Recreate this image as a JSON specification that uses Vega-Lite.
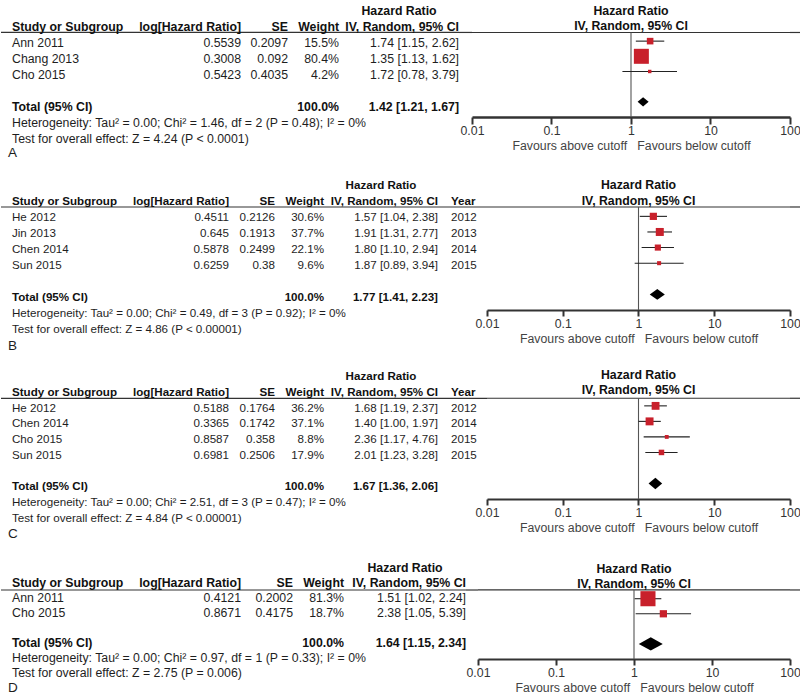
{
  "$schema": "https://vega.github.io/schema/vega-lite/v6.json",
  "padding": 0,
  "background": "white",
  "config": {
    "view": {"stroke": null},
    "font": "Liberation Sans",
    "text": {"fontSize": 12.3, "color": "#1e1e1e", "baseline": "middle"}
  },
  "datasets": {
    "studies": [
      {"panel": "A", "row": 1, "study": "Ann 2011", "loghr": 0.5539, "se": 0.2097, "weight": 0.155, "ci": "1.74 [1.15, 2.62]", "hr": 1.74, "lo": 1.15, "hi": 2.62},
      {"panel": "A", "row": 2, "study": "Chang 2013", "loghr": 0.3008, "se": 0.092, "weight": 0.804, "ci": "1.35 [1.13, 1.62]", "hr": 1.35, "lo": 1.13, "hi": 1.62},
      {"panel": "A", "row": 3, "study": "Cho 2015", "loghr": 0.5423, "se": 0.4035, "weight": 0.042, "ci": "1.72 [0.78, 3.79]", "hr": 1.72, "lo": 0.78, "hi": 3.79},
      {"panel": "B", "row": 1, "study": "He 2012", "loghr": 0.4511, "se": 0.2126, "weight": 0.306, "ci": "1.57 [1.04, 2.38]", "hr": 1.57, "lo": 1.04, "hi": 2.38, "year": 2012},
      {"panel": "B", "row": 2, "study": "Jin 2013", "loghr": 0.645, "se": 0.1913, "weight": 0.377, "ci": "1.91 [1.31, 2.77]", "hr": 1.91, "lo": 1.31, "hi": 2.77, "year": 2013},
      {"panel": "B", "row": 3, "study": "Chen 2014", "loghr": 0.5878, "se": 0.2499, "weight": 0.221, "ci": "1.80 [1.10, 2.94]", "hr": 1.8, "lo": 1.1, "hi": 2.94, "year": 2014},
      {"panel": "B", "row": 4, "study": "Sun 2015", "loghr": 0.6259, "se": 0.38, "weight": 0.096, "ci": "1.87 [0.89, 3.94]", "hr": 1.87, "lo": 0.89, "hi": 3.94, "year": 2015},
      {"panel": "C", "row": 1, "study": "He 2012", "loghr": 0.5188, "se": 0.1764, "weight": 0.362, "ci": "1.68 [1.19, 2.37]", "hr": 1.68, "lo": 1.19, "hi": 2.37, "year": 2012},
      {"panel": "C", "row": 2, "study": "Chen 2014", "loghr": 0.3365, "se": 0.1742, "weight": 0.371, "ci": "1.40 [1.00, 1.97]", "hr": 1.4, "lo": 1.0, "hi": 1.97, "year": 2014},
      {"panel": "C", "row": 3, "study": "Cho 2015", "loghr": 0.8587, "se": 0.358, "weight": 0.088, "ci": "2.36 [1.17, 4.76]", "hr": 2.36, "lo": 1.17, "hi": 4.76, "year": 2015},
      {"panel": "C", "row": 4, "study": "Sun 2015", "loghr": 0.6981, "se": 0.2506, "weight": 0.179, "ci": "2.01 [1.23, 3.28]", "hr": 2.01, "lo": 1.23, "hi": 3.28, "year": 2015},
      {"panel": "D", "row": 1, "study": "Ann 2011", "loghr": 0.4121, "se": 0.2002, "weight": 0.813, "ci": "1.51 [1.02, 2.24]", "hr": 1.51, "lo": 1.02, "hi": 2.24},
      {"panel": "D", "row": 2, "study": "Cho 2015", "loghr": 0.8671, "se": 0.4175, "weight": 0.187, "ci": "2.38 [1.05, 5.39]", "hr": 2.38, "lo": 1.05, "hi": 5.39}
    ],
    "totals": [
      {"panel": "A", "row": 5, "label": "Total (95% CI)", "weight": 1, "ci": "1.42 [1.21, 1.67]", "hr": 1.42, "lo": 1.21, "hi": 1.67},
      {"panel": "B", "row": 6, "label": "Total (95% CI)", "weight": 1, "ci": "1.77 [1.41, 2.23]", "hr": 1.77, "lo": 1.41, "hi": 2.23},
      {"panel": "C", "row": 6, "label": "Total (95% CI)", "weight": 1, "ci": "1.67 [1.36, 2.06]", "hr": 1.67, "lo": 1.36, "hi": 2.06},
      {"panel": "D", "row": 4, "label": "Total (95% CI)", "weight": 1, "ci": "1.64 [1.15, 2.34]", "hr": 1.64, "lo": 1.15, "hi": 2.34}
    ],
    "notes": [
      {"panel": "A", "row": 6, "text": "Heterogeneity: Tau² = 0.00; Chi² = 1.46, df = 2 (P = 0.48); I² = 0%"},
      {"panel": "A", "row": 7, "text": "Test for overall effect: Z = 4.24 (P < 0.0001)"},
      {"panel": "B", "row": 7, "text": "Heterogeneity: Tau² = 0.00; Chi² = 0.49, df = 3 (P = 0.92); I² = 0%"},
      {"panel": "B", "row": 8, "text": "Test for overall effect: Z = 4.86 (P < 0.00001)"},
      {"panel": "C", "row": 7, "text": "Heterogeneity: Tau² = 0.00; Chi² = 2.51, df = 3 (P = 0.47); I² = 0%"},
      {"panel": "C", "row": 8, "text": "Test for overall effect: Z = 4.84 (P < 0.00001)"},
      {"panel": "D", "row": 5, "text": "Heterogeneity: Tau² = 0.00; Chi² = 0.97, df = 1 (P = 0.33); I² = 0%"},
      {"panel": "D", "row": 6, "text": "Test for overall effect: Z = 2.75 (P = 0.006)"}
    ],
    "letters": [
      {"panel": "A", "row": 7, "letter": "A"},
      {"panel": "B", "row": 8, "letter": "B"},
      {"panel": "C", "row": 8, "letter": "C"},
      {"panel": "D", "row": 6, "letter": "D"}
    ],
    "headers": [
      {"panel": "A", "col": "study", "row": 0, "text": "Study or Subgroup"},
      {"panel": "A", "col": "loghr", "row": 0, "text": "log[Hazard Ratio]"},
      {"panel": "A", "col": "se", "row": 0, "text": "SE"},
      {"panel": "A", "col": "weight", "row": 0, "text": "Weight"},
      {"panel": "A", "col": "ci", "row": -1, "text": "Hazard Ratio"},
      {"panel": "A", "col": "ci", "row": 0, "text": "IV, Random, 95% CI"},
      {"panel": "A", "col": "forest", "row": -1, "text": "Hazard Ratio"},
      {"panel": "A", "col": "forest", "row": 0, "text": "IV, Random, 95% CI"},
      {"panel": "B", "col": "study", "row": 0, "text": "Study or Subgroup"},
      {"panel": "B", "col": "loghr", "row": 0, "text": "log[Hazard Ratio]"},
      {"panel": "B", "col": "se", "row": 0, "text": "SE"},
      {"panel": "B", "col": "weight", "row": 0, "text": "Weight"},
      {"panel": "B", "col": "ci", "row": -1, "text": "Hazard Ratio"},
      {"panel": "B", "col": "ci", "row": 0, "text": "IV, Random, 95% CI"},
      {"panel": "B", "col": "year", "row": 0, "text": "Year"},
      {"panel": "B", "col": "forest", "row": -1, "text": "Hazard Ratio"},
      {"panel": "B", "col": "forest", "row": 0, "text": "IV, Random, 95% CI"},
      {"panel": "C", "col": "study", "row": 0, "text": "Study or Subgroup"},
      {"panel": "C", "col": "loghr", "row": 0, "text": "log[Hazard Ratio]"},
      {"panel": "C", "col": "se", "row": 0, "text": "SE"},
      {"panel": "C", "col": "weight", "row": 0, "text": "Weight"},
      {"panel": "C", "col": "ci", "row": -1, "text": "Hazard Ratio"},
      {"panel": "C", "col": "ci", "row": 0, "text": "IV, Random, 95% CI"},
      {"panel": "C", "col": "year", "row": 0, "text": "Year"},
      {"panel": "C", "col": "forest", "row": -1, "text": "Hazard Ratio"},
      {"panel": "C", "col": "forest", "row": 0, "text": "IV, Random, 95% CI"},
      {"panel": "D", "col": "study", "row": 0, "text": "Study or Subgroup"},
      {"panel": "D", "col": "loghr", "row": 0, "text": "log[Hazard Ratio]"},
      {"panel": "D", "col": "se", "row": 0, "text": "SE"},
      {"panel": "D", "col": "weight", "row": 0, "text": "Weight"},
      {"panel": "D", "col": "ci", "row": -1, "text": "Hazard Ratio"},
      {"panel": "D", "col": "ci", "row": 0, "text": "IV, Random, 95% CI"},
      {"panel": "D", "col": "forest", "row": -1, "text": "Hazard Ratio"},
      {"panel": "D", "col": "forest", "row": 0, "text": "IV, Random, 95% CI"}
    ]
  },
  "spacing": 0,
  "resolve": {"scale": {"size": "independent"}},
  "vconcat": [
    {
      "spacing": 0, "bounds": "flush",
      "hconcat": [
        {
          "width": 140, "height": 175,
          "encoding": {"y": {"field": "row", "type": "quantitative", "scale": {"domain": [-1.6875, 9.25], "reverse": true, "nice": false, "zero": false}, "axis": null}},
          "layer": [
            {"data": {"name": "headers"}, "transform": [{"filter": "datum.panel == 'A' && datum.col == 'study'"}], "mark": {"type": "rule", "color": "#333", "strokeWidth": 1.2}, "encoding": {"y": {"datum": 0.34, "type": "quantitative", "axis": null}}},
            {"data": {"name": "headers"}, "transform": [{"filter": "datum.panel == 'A' && datum.col == 'study'"}], "mark": {"type": "text", "align": "left", "dx": 11, "fontWeight": "bold", "color": "#111"}, "encoding": {"x": {"value": 0}, "text": {"field": "text", "type": "nominal"}}},
            {"data": {"name": "studies"}, "transform": [{"filter": "datum.panel == 'A'"}], "mark": {"type": "text", "align": "left", "dx": 11}, "encoding": {"x": {"value": 0}, "text": {"field": "study", "type": "nominal"}}},
            {"data": {"name": "totals"}, "transform": [{"filter": "datum.panel == 'A'"}], "mark": {"type": "text", "align": "left", "dx": 11, "fontWeight": "bold", "color": "#111"}, "encoding": {"x": {"value": 0}, "text": {"field": "label", "type": "nominal"}}},
            {"data": {"name": "notes"}, "transform": [{"filter": "datum.panel == 'A'"}], "mark": {"type": "text", "align": "left", "dx": 11}, "encoding": {"x": {"value": 0}, "text": {"field": "text", "type": "nominal"}}},
            {"data": {"name": "letters"}, "transform": [{"filter": "datum.panel == 'A'"}], "mark": {"type": "text", "align": "left", "dx": 7, "dy": 14, "fontSize": 13.5}, "encoding": {"x": {"value": 0}, "text": {"field": "letter", "type": "nominal"}}}
          ]
        },
        {
          "width": 100, "height": 175,
          "encoding": {"y": {"field": "row", "type": "quantitative", "scale": {"domain": [-1.6875, 9.25], "reverse": true, "nice": false, "zero": false}, "axis": null}},
          "layer": [
            {"data": {"name": "headers"}, "transform": [{"filter": "datum.panel == 'A' && datum.col == 'loghr'"}], "mark": {"type": "rule", "color": "#333", "strokeWidth": 1.2}, "encoding": {"y": {"datum": 0.34, "type": "quantitative", "axis": null}}},
            {"data": {"name": "headers"}, "transform": [{"filter": "datum.panel == 'A' && datum.col == 'loghr'"}], "mark": {"type": "text", "align": "right", "fontWeight": "bold", "color": "#111"}, "encoding": {"x": {"value": "width"}, "text": {"field": "text", "type": "nominal"}}},
            {"data": {"name": "studies"}, "transform": [{"filter": "datum.panel == 'A'"}], "mark": {"type": "text", "align": "right"}, "encoding": {"x": {"value": "width"}, "text": {"field": "loghr", "type": "nominal"}}}
          ]
        },
        {
          "width": 47, "height": 175,
          "encoding": {"y": {"field": "row", "type": "quantitative", "scale": {"domain": [-1.6875, 9.25], "reverse": true, "nice": false, "zero": false}, "axis": null}},
          "layer": [
            {"data": {"name": "headers"}, "transform": [{"filter": "datum.panel == 'A' && datum.col == 'se'"}], "mark": {"type": "rule", "color": "#333", "strokeWidth": 1.2}, "encoding": {"y": {"datum": 0.34, "type": "quantitative", "axis": null}}},
            {"data": {"name": "headers"}, "transform": [{"filter": "datum.panel == 'A' && datum.col == 'se'"}], "mark": {"type": "text", "align": "right", "fontWeight": "bold", "color": "#111"}, "encoding": {"x": {"value": "width"}, "text": {"field": "text", "type": "nominal"}}},
            {"data": {"name": "studies"}, "transform": [{"filter": "datum.panel == 'A'"}], "mark": {"type": "text", "align": "right"}, "encoding": {"x": {"value": "width"}, "text": {"field": "se", "type": "nominal"}}}
          ]
        },
        {
          "width": 51, "height": 175,
          "encoding": {"y": {"field": "row", "type": "quantitative", "scale": {"domain": [-1.6875, 9.25], "reverse": true, "nice": false, "zero": false}, "axis": null}},
          "layer": [
            {"data": {"name": "headers"}, "transform": [{"filter": "datum.panel == 'A' && datum.col == 'weight'"}], "mark": {"type": "rule", "color": "#333", "strokeWidth": 1.2}, "encoding": {"y": {"datum": 0.34, "type": "quantitative", "axis": null}}},
            {"data": {"name": "headers"}, "transform": [{"filter": "datum.panel == 'A' && datum.col == 'weight'"}], "mark": {"type": "text", "align": "right", "fontWeight": "bold", "color": "#111"}, "encoding": {"x": {"value": "width"}, "text": {"field": "text", "type": "nominal"}}},
            {"data": {"name": "studies"}, "transform": [{"filter": "datum.panel == 'A'"}], "mark": {"type": "text", "align": "right"}, "encoding": {"x": {"value": "width"}, "text": {"field": "weight", "type": "quantitative", "format": ".1%"}}},
            {"data": {"name": "totals"}, "transform": [{"filter": "datum.panel == 'A'"}], "mark": {"type": "text", "align": "right", "fontWeight": "bold", "color": "#111"}, "encoding": {"x": {"value": "width"}, "text": {"field": "weight", "type": "quantitative", "format": ".1%"}}}
          ]
        },
        {
          "width": 120, "height": 175,
          "encoding": {"y": {"field": "row", "type": "quantitative", "scale": {"domain": [-1.6875, 9.25], "reverse": true, "nice": false, "zero": false}, "axis": null}},
          "layer": [
            {"data": {"name": "headers"}, "transform": [{"filter": "datum.panel == 'A' && datum.col == 'ci' && datum.row == 0"}], "mark": {"type": "rule", "color": "#333", "strokeWidth": 1.2}, "encoding": {"y": {"datum": 0.34, "type": "quantitative", "axis": null}}},
            {"data": {"name": "headers"}, "transform": [{"filter": "datum.panel == 'A' && datum.col == 'ci' && datum.row == -1"}], "mark": {"type": "text", "align": "center", "fontWeight": "bold", "color": "#111"}, "encoding": {"text": {"field": "text", "type": "nominal"}}},
            {"data": {"name": "headers"}, "transform": [{"filter": "datum.panel == 'A' && datum.col == 'ci' && datum.row == 0"}], "mark": {"type": "text", "align": "right", "fontWeight": "bold", "color": "#111"}, "encoding": {"x": {"value": "width"}, "text": {"field": "text", "type": "nominal"}}},
            {"data": {"name": "studies"}, "transform": [{"filter": "datum.panel == 'A'"}], "mark": {"type": "text", "align": "right"}, "encoding": {"x": {"value": "width"}, "text": {"field": "ci", "type": "nominal"}}},
            {"data": {"name": "totals"}, "transform": [{"filter": "datum.panel == 'A'"}], "mark": {"type": "text", "align": "right", "fontWeight": "bold", "color": "#111"}, "encoding": {"x": {"value": "width"}, "text": {"field": "ci", "type": "nominal"}}}
          ]
        },
        {
          "width": 13, "height": 175,
          "data": {"name": "headers"}, "transform": [{"filter": "datum.panel == 'A' && datum.col == 'study'"}],
          "mark": {"type": "rule", "color": "#333", "strokeWidth": 1.2},
          "encoding": {"y": {"datum": 0.34, "type": "quantitative", "scale": {"domain": [-1.6875, 9.25], "reverse": true, "nice": false, "zero": false}, "axis": null}}
        },
        {
          "width": 318, "height": 117,
          "encoding": {"y": {"field": "row", "type": "quantitative", "scale": {"domain": [-1.7105, 6], "reverse": true, "nice": false, "zero": false}, "axis": null}},
          "layer": [
            {"data": {"name": "headers"}, "transform": [{"filter": "datum.panel == 'A' && datum.col == 'forest' && datum.row == 0"}], "mark": {"type": "rule", "color": "#333", "strokeWidth": 1.2}, "encoding": {"y": {"datum": 0.43, "type": "quantitative", "axis": null}}},
            {"data": {"name": "headers"}, "transform": [{"filter": "datum.panel == 'A' && datum.col == 'forest'"}], "mark": {"type": "text", "align": "center", "fontWeight": "bold", "color": "#111"}, "encoding": {"text": {"field": "text", "type": "nominal"}}},
            {"data": {"name": "headers"}, "transform": [{"filter": "datum.panel == 'A' && datum.col == 'forest' && datum.row == 0"}], "mark": {"type": "rule", "color": "#555", "strokeWidth": 1.1}, "encoding": {"x": {"datum": 1, "type": "quantitative", "scale": {"type": "log", "domain": [0.01, 100]}, "axis": {"values": [0.01, 0.1, 1, 10, 100], "format": "~g", "grid": false, "domain": true, "ticks": true, "domainColor": "#333", "domainWidth": 2.6, "tickColor": "#333", "tickWidth": 2, "tickSize": 7, "labelFontSize": 12.3, "labelColor": "#333", "labelPadding": 0, "labelFlush": false, "labelOverlap": false, "titleFontSize": 12.3, "titleFontWeight": "normal", "titleColor": "#444", "titlePadding": 3, "title": "Favours above cutoff\u00a0\u00a0\u00a0Favours below cutoff"}}, "y": {"datum": 0.43, "type": "quantitative", "axis": null}, "y2": {"datum": 6}}},
            {"data": {"name": "studies"}, "transform": [{"filter": "datum.panel == 'A'"}], "mark": {"type": "rule", "color": "#222", "strokeWidth": 1.1}, "encoding": {"x": {"field": "lo", "type": "quantitative", "scale": {"type": "log", "domain": [0.01, 100]}, "axis": {"values": [0.01, 0.1, 1, 10, 100], "format": "~g", "grid": false, "domain": true, "ticks": true, "domainColor": "#333", "domainWidth": 2.6, "tickColor": "#333", "tickWidth": 2, "tickSize": 7, "labelFontSize": 12.3, "labelColor": "#333", "labelPadding": 0, "labelFlush": false, "labelOverlap": false, "titleFontSize": 12.3, "titleFontWeight": "normal", "titleColor": "#444", "titlePadding": 3, "title": "Favours above cutoff\u00a0\u00a0\u00a0Favours below cutoff"}}, "x2": {"field": "hi"}}},
            {"data": {"name": "studies"}, "transform": [{"filter": "datum.panel == 'A'"}], "mark": {"type": "point", "shape": "square", "filled": true, "color": "#c8202b", "opacity": 1, "strokeWidth": 0}, "encoding": {"x": {"field": "hr", "type": "quantitative", "scale": {"type": "log", "domain": [0.01, 100]}, "axis": {"values": [0.01, 0.1, 1, 10, 100], "format": "~g", "grid": false, "domain": true, "ticks": true, "domainColor": "#333", "domainWidth": 2.6, "tickColor": "#333", "tickWidth": 2, "tickSize": 7, "labelFontSize": 12.3, "labelColor": "#333", "labelPadding": 0, "labelFlush": false, "labelOverlap": false, "titleFontSize": 12.3, "titleFontWeight": "normal", "titleColor": "#444", "titlePadding": 3, "title": "Favours above cutoff\u00a0\u00a0\u00a0Favours below cutoff"}}, "size": {"field": "weight", "type": "quantitative", "scale": {"domain": [0, 1], "range": [0, 280]}, "legend": null}}},
            {"data": {"name": "totals"}, "transform": [{"filter": "datum.panel == 'A'"}], "mark": {"type": "point", "shape": "M-1,0L0,-0.85L1,0L0,0.85Z", "filled": true, "color": "#000", "opacity": 1, "size": 121}, "encoding": {"x": {"field": "hr", "type": "quantitative", "scale": {"type": "log", "domain": [0.01, 100]}, "axis": {"values": [0.01, 0.1, 1, 10, 100], "format": "~g", "grid": false, "domain": true, "ticks": true, "domainColor": "#333", "domainWidth": 2.6, "tickColor": "#333", "tickWidth": 2, "tickSize": 7, "labelFontSize": 12.3, "labelColor": "#333", "labelPadding": 0, "labelFlush": false, "labelOverlap": false, "titleFontSize": 12.3, "titleFontWeight": "normal", "titleColor": "#444", "titlePadding": 3, "title": "Favours above cutoff\u00a0\u00a0\u00a0Favours below cutoff"}}}}
          ]
        },
        {
          "width": 11, "height": 117,
          "data": {"name": "headers"}, "transform": [{"filter": "datum.panel == 'A' && datum.col == 'study'"}],
          "mark": {"type": "rule", "color": "#333", "strokeWidth": 1.2},
          "encoding": {"y": {"datum": 0.43, "type": "quantitative", "scale": {"domain": [-1.7105, 6], "reverse": true, "nice": false, "zero": false}, "axis": null}}
        }
      ]
    },
    {
      "spacing": 0, "bounds": "flush",
      "hconcat": [
        {
          "width": 130, "height": 191,
          "encoding": {"y": {"field": "row", "type": "quantitative", "scale": {"domain": [-1.6875, 10.25], "reverse": true, "nice": false, "zero": false}, "axis": null}},
          "layer": [
            {"data": {"name": "headers"}, "transform": [{"filter": "datum.panel == 'B' && datum.col == 'study'"}], "mark": {"type": "rule", "color": "#333", "strokeWidth": 1.2}, "encoding": {"y": {"datum": 0.3125, "type": "quantitative", "axis": null}}},
            {"data": {"name": "headers"}, "transform": [{"filter": "datum.panel == 'B' && datum.col == 'study'"}], "mark": {"type": "text", "align": "left", "dx": 11, "fontSize": 11.6, "fontWeight": "bold", "color": "#111"}, "encoding": {"x": {"value": 0}, "text": {"field": "text", "type": "nominal"}}},
            {"data": {"name": "studies"}, "transform": [{"filter": "datum.panel == 'B'"}], "mark": {"type": "text", "align": "left", "dx": 11, "fontSize": 11.6}, "encoding": {"x": {"value": 0}, "text": {"field": "study", "type": "nominal"}}},
            {"data": {"name": "totals"}, "transform": [{"filter": "datum.panel == 'B'"}], "mark": {"type": "text", "align": "left", "dx": 11, "fontSize": 11.6, "fontWeight": "bold", "color": "#111"}, "encoding": {"x": {"value": 0}, "text": {"field": "label", "type": "nominal"}}},
            {"data": {"name": "notes"}, "transform": [{"filter": "datum.panel == 'B'"}], "mark": {"type": "text", "align": "left", "dx": 11, "fontSize": 11.6}, "encoding": {"x": {"value": 0}, "text": {"field": "text", "type": "nominal"}}},
            {"data": {"name": "letters"}, "transform": [{"filter": "datum.panel == 'B'"}], "mark": {"type": "text", "align": "left", "dx": 7, "dy": 16, "fontSize": 13.5}, "encoding": {"x": {"value": 0}, "text": {"field": "letter", "type": "nominal"}}}
          ]
        },
        {
          "width": 98, "height": 191,
          "encoding": {"y": {"field": "row", "type": "quantitative", "scale": {"domain": [-1.6875, 10.25], "reverse": true, "nice": false, "zero": false}, "axis": null}},
          "layer": [
            {"data": {"name": "headers"}, "transform": [{"filter": "datum.panel == 'B' && datum.col == 'loghr'"}], "mark": {"type": "rule", "color": "#333", "strokeWidth": 1.2}, "encoding": {"y": {"datum": 0.3125, "type": "quantitative", "axis": null}}},
            {"data": {"name": "headers"}, "transform": [{"filter": "datum.panel == 'B' && datum.col == 'loghr'"}], "mark": {"type": "text", "align": "right", "fontSize": 11.6, "fontWeight": "bold", "color": "#111"}, "encoding": {"x": {"value": "width"}, "text": {"field": "text", "type": "nominal"}}},
            {"data": {"name": "studies"}, "transform": [{"filter": "datum.panel == 'B'"}], "mark": {"type": "text", "align": "right", "fontSize": 11.6}, "encoding": {"x": {"value": "width"}, "text": {"field": "loghr", "type": "nominal"}}}
          ]
        },
        {
          "width": 46, "height": 191,
          "encoding": {"y": {"field": "row", "type": "quantitative", "scale": {"domain": [-1.6875, 10.25], "reverse": true, "nice": false, "zero": false}, "axis": null}},
          "layer": [
            {"data": {"name": "headers"}, "transform": [{"filter": "datum.panel == 'B' && datum.col == 'se'"}], "mark": {"type": "rule", "color": "#333", "strokeWidth": 1.2}, "encoding": {"y": {"datum": 0.3125, "type": "quantitative", "axis": null}}},
            {"data": {"name": "headers"}, "transform": [{"filter": "datum.panel == 'B' && datum.col == 'se'"}], "mark": {"type": "text", "align": "right", "fontSize": 11.6, "fontWeight": "bold", "color": "#111"}, "encoding": {"x": {"value": "width"}, "text": {"field": "text", "type": "nominal"}}},
            {"data": {"name": "studies"}, "transform": [{"filter": "datum.panel == 'B'"}], "mark": {"type": "text", "align": "right", "fontSize": 11.6}, "encoding": {"x": {"value": "width"}, "text": {"field": "se", "type": "nominal"}}}
          ]
        },
        {
          "width": 49, "height": 191,
          "encoding": {"y": {"field": "row", "type": "quantitative", "scale": {"domain": [-1.6875, 10.25], "reverse": true, "nice": false, "zero": false}, "axis": null}},
          "layer": [
            {"data": {"name": "headers"}, "transform": [{"filter": "datum.panel == 'B' && datum.col == 'weight'"}], "mark": {"type": "rule", "color": "#333", "strokeWidth": 1.2}, "encoding": {"y": {"datum": 0.3125, "type": "quantitative", "axis": null}}},
            {"data": {"name": "headers"}, "transform": [{"filter": "datum.panel == 'B' && datum.col == 'weight'"}], "mark": {"type": "text", "align": "right", "fontSize": 11.6, "fontWeight": "bold", "color": "#111"}, "encoding": {"x": {"value": "width"}, "text": {"field": "text", "type": "nominal"}}},
            {"data": {"name": "studies"}, "transform": [{"filter": "datum.panel == 'B'"}], "mark": {"type": "text", "align": "right", "fontSize": 11.6}, "encoding": {"x": {"value": "width"}, "text": {"field": "weight", "type": "quantitative", "format": ".1%"}}},
            {"data": {"name": "totals"}, "transform": [{"filter": "datum.panel == 'B'"}], "mark": {"type": "text", "align": "right", "fontSize": 11.6, "fontWeight": "bold", "color": "#111"}, "encoding": {"x": {"value": "width"}, "text": {"field": "weight", "type": "quantitative", "format": ".1%"}}}
          ]
        },
        {
          "width": 114, "height": 191,
          "encoding": {"y": {"field": "row", "type": "quantitative", "scale": {"domain": [-1.6875, 10.25], "reverse": true, "nice": false, "zero": false}, "axis": null}},
          "layer": [
            {"data": {"name": "headers"}, "transform": [{"filter": "datum.panel == 'B' && datum.col == 'ci' && datum.row == 0"}], "mark": {"type": "rule", "color": "#333", "strokeWidth": 1.2}, "encoding": {"y": {"datum": 0.3125, "type": "quantitative", "axis": null}}},
            {"data": {"name": "headers"}, "transform": [{"filter": "datum.panel == 'B' && datum.col == 'ci' && datum.row == -1"}], "mark": {"type": "text", "align": "center", "fontSize": 11.6, "fontWeight": "bold", "color": "#111"}, "encoding": {"text": {"field": "text", "type": "nominal"}}},
            {"data": {"name": "headers"}, "transform": [{"filter": "datum.panel == 'B' && datum.col == 'ci' && datum.row == 0"}], "mark": {"type": "text", "align": "right", "fontSize": 11.6, "fontWeight": "bold", "color": "#111"}, "encoding": {"x": {"value": "width"}, "text": {"field": "text", "type": "nominal"}}},
            {"data": {"name": "studies"}, "transform": [{"filter": "datum.panel == 'B'"}], "mark": {"type": "text", "align": "right", "fontSize": 11.6}, "encoding": {"x": {"value": "width"}, "text": {"field": "ci", "type": "nominal"}}},
            {"data": {"name": "totals"}, "transform": [{"filter": "datum.panel == 'B'"}], "mark": {"type": "text", "align": "right", "fontSize": 11.6, "fontWeight": "bold", "color": "#111"}, "encoding": {"x": {"value": "width"}, "text": {"field": "ci", "type": "nominal"}}}
          ]
        },
        {
          "width": 49, "height": 191,
          "encoding": {"y": {"field": "row", "type": "quantitative", "scale": {"domain": [-1.6875, 10.25], "reverse": true, "nice": false, "zero": false}, "axis": null}},
          "layer": [
            {"data": {"name": "headers"}, "transform": [{"filter": "datum.panel == 'B' && datum.col == 'year'"}], "mark": {"type": "rule", "color": "#333", "strokeWidth": 1.2}, "encoding": {"y": {"datum": 0.3125, "type": "quantitative", "axis": null}}},
            {"data": {"name": "headers"}, "transform": [{"filter": "datum.panel == 'B' && datum.col == 'year'"}], "mark": {"type": "text", "align": "left", "dx": 13, "fontSize": 11.6, "fontWeight": "bold", "color": "#111"}, "encoding": {"x": {"value": 0}, "text": {"field": "text", "type": "nominal"}}},
            {"data": {"name": "studies"}, "transform": [{"filter": "datum.panel == 'B'"}], "mark": {"type": "text", "align": "left", "dx": 13, "fontSize": 11.6}, "encoding": {"x": {"value": 0}, "text": {"field": "year", "type": "nominal"}}}
          ]
        },
        {
          "width": 303, "height": 135,
          "encoding": {"y": {"field": "row", "type": "quantitative", "scale": {"domain": [-1.65, 7], "reverse": true, "nice": false, "zero": false}, "axis": null}},
          "layer": [
            {"data": {"name": "headers"}, "transform": [{"filter": "datum.panel == 'B' && datum.col == 'forest' && datum.row == 0"}], "mark": {"type": "rule", "color": "#333", "strokeWidth": 1.2}, "encoding": {"y": {"datum": 0.4, "type": "quantitative", "axis": null}}},
            {"data": {"name": "headers"}, "transform": [{"filter": "datum.panel == 'B' && datum.col == 'forest'"}], "mark": {"type": "text", "align": "center", "fontWeight": "bold", "color": "#111"}, "encoding": {"text": {"field": "text", "type": "nominal"}}},
            {"data": {"name": "headers"}, "transform": [{"filter": "datum.panel == 'B' && datum.col == 'forest' && datum.row == 0"}], "mark": {"type": "rule", "color": "#555", "strokeWidth": 1.1}, "encoding": {"x": {"datum": 1, "type": "quantitative", "scale": {"type": "log", "domain": [0.01, 100]}, "axis": {"values": [0.01, 0.1, 1, 10, 100], "format": "~g", "grid": false, "domain": true, "ticks": true, "domainColor": "#333", "domainWidth": 2, "tickColor": "#333", "tickWidth": 2, "tickSize": 6, "labelFontSize": 12.3, "labelColor": "#333", "labelPadding": 1, "labelFlush": false, "labelOverlap": false, "titleFontSize": 12.3, "titleFontWeight": "normal", "titleColor": "#444", "titlePadding": 3, "title": "Favours above cutoff\u00a0\u00a0\u00a0Favours below cutoff"}}, "y": {"datum": 0.4, "type": "quantitative", "axis": null}, "y2": {"datum": 7}}},
            {"data": {"name": "studies"}, "transform": [{"filter": "datum.panel == 'B'"}], "mark": {"type": "rule", "color": "#222", "strokeWidth": 1.1}, "encoding": {"x": {"field": "lo", "type": "quantitative", "scale": {"type": "log", "domain": [0.01, 100]}, "axis": {"values": [0.01, 0.1, 1, 10, 100], "format": "~g", "grid": false, "domain": true, "ticks": true, "domainColor": "#333", "domainWidth": 2, "tickColor": "#333", "tickWidth": 2, "tickSize": 6, "labelFontSize": 12.3, "labelColor": "#333", "labelPadding": 1, "labelFlush": false, "labelOverlap": false, "titleFontSize": 12.3, "titleFontWeight": "normal", "titleColor": "#444", "titlePadding": 3, "title": "Favours above cutoff\u00a0\u00a0\u00a0Favours below cutoff"}}, "x2": {"field": "hi"}}},
            {"data": {"name": "studies"}, "transform": [{"filter": "datum.panel == 'B'"}], "mark": {"type": "point", "shape": "square", "filled": true, "color": "#c8202b", "opacity": 1, "strokeWidth": 0}, "encoding": {"x": {"field": "hr", "type": "quantitative", "scale": {"type": "log", "domain": [0.01, 100]}, "axis": {"values": [0.01, 0.1, 1, 10, 100], "format": "~g", "grid": false, "domain": true, "ticks": true, "domainColor": "#333", "domainWidth": 2, "tickColor": "#333", "tickWidth": 2, "tickSize": 6, "labelFontSize": 12.3, "labelColor": "#333", "labelPadding": 1, "labelFlush": false, "labelOverlap": false, "titleFontSize": 12.3, "titleFontWeight": "normal", "titleColor": "#444", "titlePadding": 3, "title": "Favours above cutoff\u00a0\u00a0\u00a0Favours below cutoff"}}, "size": {"field": "weight", "type": "quantitative", "scale": {"domain": [0, 1], "range": [0, 170]}, "legend": null}}},
            {"data": {"name": "totals"}, "transform": [{"filter": "datum.panel == 'B'"}], "mark": {"type": "point", "shape": "M-1,0L0,-0.72L1,0L0,0.72Z", "filled": true, "color": "#000", "opacity": 1, "size": 228}, "encoding": {"x": {"field": "hr", "type": "quantitative", "scale": {"type": "log", "domain": [0.01, 100]}, "axis": {"values": [0.01, 0.1, 1, 10, 100], "format": "~g", "grid": false, "domain": true, "ticks": true, "domainColor": "#333", "domainWidth": 2, "tickColor": "#333", "tickWidth": 2, "tickSize": 6, "labelFontSize": 12.3, "labelColor": "#333", "labelPadding": 1, "labelFlush": false, "labelOverlap": false, "titleFontSize": 12.3, "titleFontWeight": "normal", "titleColor": "#444", "titlePadding": 3, "title": "Favours above cutoff\u00a0\u00a0\u00a0Favours below cutoff"}}}}
          ]
        },
        {
          "width": 11, "height": 135,
          "data": {"name": "headers"}, "transform": [{"filter": "datum.panel == 'B' && datum.col == 'study'"}],
          "mark": {"type": "rule", "color": "#333", "strokeWidth": 1.2},
          "encoding": {"y": {"datum": 0.4, "type": "quantitative", "scale": {"domain": [-1.65, 7], "reverse": true, "nice": false, "zero": false}, "axis": null}}
        }
      ]
    },
    {
      "spacing": 0, "bounds": "flush",
      "hconcat": [
        {
          "width": 130, "height": 190,
          "encoding": {"y": {"field": "row", "type": "quantitative", "scale": {"domain": [-1.7197, 10.3822], "reverse": true, "nice": false, "zero": false}, "axis": null}},
          "layer": [
            {"data": {"name": "headers"}, "transform": [{"filter": "datum.panel == 'C' && datum.col == 'study'"}], "mark": {"type": "rule", "color": "#333", "strokeWidth": 1.2}, "encoding": {"y": {"datum": 0.34, "type": "quantitative", "axis": null}}},
            {"data": {"name": "headers"}, "transform": [{"filter": "datum.panel == 'C' && datum.col == 'study'"}], "mark": {"type": "text", "align": "left", "dx": 11, "fontSize": 11.6, "fontWeight": "bold", "color": "#111"}, "encoding": {"x": {"value": 0}, "text": {"field": "text", "type": "nominal"}}},
            {"data": {"name": "studies"}, "transform": [{"filter": "datum.panel == 'C'"}], "mark": {"type": "text", "align": "left", "dx": 11, "fontSize": 11.6}, "encoding": {"x": {"value": 0}, "text": {"field": "study", "type": "nominal"}}},
            {"data": {"name": "totals"}, "transform": [{"filter": "datum.panel == 'C'"}], "mark": {"type": "text", "align": "left", "dx": 11, "fontSize": 11.6, "fontWeight": "bold", "color": "#111"}, "encoding": {"x": {"value": 0}, "text": {"field": "label", "type": "nominal"}}},
            {"data": {"name": "notes"}, "transform": [{"filter": "datum.panel == 'C'"}], "mark": {"type": "text", "align": "left", "dx": 11, "fontSize": 11.6}, "encoding": {"x": {"value": 0}, "text": {"field": "text", "type": "nominal"}}},
            {"data": {"name": "letters"}, "transform": [{"filter": "datum.panel == 'C'"}], "mark": {"type": "text", "align": "left", "dx": 7, "dy": 15, "fontSize": 13.5}, "encoding": {"x": {"value": 0}, "text": {"field": "letter", "type": "nominal"}}}
          ]
        },
        {
          "width": 98, "height": 190,
          "encoding": {"y": {"field": "row", "type": "quantitative", "scale": {"domain": [-1.7197, 10.3822], "reverse": true, "nice": false, "zero": false}, "axis": null}},
          "layer": [
            {"data": {"name": "headers"}, "transform": [{"filter": "datum.panel == 'C' && datum.col == 'loghr'"}], "mark": {"type": "rule", "color": "#333", "strokeWidth": 1.2}, "encoding": {"y": {"datum": 0.34, "type": "quantitative", "axis": null}}},
            {"data": {"name": "headers"}, "transform": [{"filter": "datum.panel == 'C' && datum.col == 'loghr'"}], "mark": {"type": "text", "align": "right", "fontSize": 11.6, "fontWeight": "bold", "color": "#111"}, "encoding": {"x": {"value": "width"}, "text": {"field": "text", "type": "nominal"}}},
            {"data": {"name": "studies"}, "transform": [{"filter": "datum.panel == 'C'"}], "mark": {"type": "text", "align": "right", "fontSize": 11.6}, "encoding": {"x": {"value": "width"}, "text": {"field": "loghr", "type": "nominal"}}}
          ]
        },
        {
          "width": 46, "height": 190,
          "encoding": {"y": {"field": "row", "type": "quantitative", "scale": {"domain": [-1.7197, 10.3822], "reverse": true, "nice": false, "zero": false}, "axis": null}},
          "layer": [
            {"data": {"name": "headers"}, "transform": [{"filter": "datum.panel == 'C' && datum.col == 'se'"}], "mark": {"type": "rule", "color": "#333", "strokeWidth": 1.2}, "encoding": {"y": {"datum": 0.34, "type": "quantitative", "axis": null}}},
            {"data": {"name": "headers"}, "transform": [{"filter": "datum.panel == 'C' && datum.col == 'se'"}], "mark": {"type": "text", "align": "right", "fontSize": 11.6, "fontWeight": "bold", "color": "#111"}, "encoding": {"x": {"value": "width"}, "text": {"field": "text", "type": "nominal"}}},
            {"data": {"name": "studies"}, "transform": [{"filter": "datum.panel == 'C'"}], "mark": {"type": "text", "align": "right", "fontSize": 11.6}, "encoding": {"x": {"value": "width"}, "text": {"field": "se", "type": "nominal"}}}
          ]
        },
        {
          "width": 49, "height": 190,
          "encoding": {"y": {"field": "row", "type": "quantitative", "scale": {"domain": [-1.7197, 10.3822], "reverse": true, "nice": false, "zero": false}, "axis": null}},
          "layer": [
            {"data": {"name": "headers"}, "transform": [{"filter": "datum.panel == 'C' && datum.col == 'weight'"}], "mark": {"type": "rule", "color": "#333", "strokeWidth": 1.2}, "encoding": {"y": {"datum": 0.34, "type": "quantitative", "axis": null}}},
            {"data": {"name": "headers"}, "transform": [{"filter": "datum.panel == 'C' && datum.col == 'weight'"}], "mark": {"type": "text", "align": "right", "fontSize": 11.6, "fontWeight": "bold", "color": "#111"}, "encoding": {"x": {"value": "width"}, "text": {"field": "text", "type": "nominal"}}},
            {"data": {"name": "studies"}, "transform": [{"filter": "datum.panel == 'C'"}], "mark": {"type": "text", "align": "right", "fontSize": 11.6}, "encoding": {"x": {"value": "width"}, "text": {"field": "weight", "type": "quantitative", "format": ".1%"}}},
            {"data": {"name": "totals"}, "transform": [{"filter": "datum.panel == 'C'"}], "mark": {"type": "text", "align": "right", "fontSize": 11.6, "fontWeight": "bold", "color": "#111"}, "encoding": {"x": {"value": "width"}, "text": {"field": "weight", "type": "quantitative", "format": ".1%"}}}
          ]
        },
        {
          "width": 114, "height": 190,
          "encoding": {"y": {"field": "row", "type": "quantitative", "scale": {"domain": [-1.7197, 10.3822], "reverse": true, "nice": false, "zero": false}, "axis": null}},
          "layer": [
            {"data": {"name": "headers"}, "transform": [{"filter": "datum.panel == 'C' && datum.col == 'ci' && datum.row == 0"}], "mark": {"type": "rule", "color": "#333", "strokeWidth": 1.2}, "encoding": {"y": {"datum": 0.34, "type": "quantitative", "axis": null}}},
            {"data": {"name": "headers"}, "transform": [{"filter": "datum.panel == 'C' && datum.col == 'ci' && datum.row == -1"}], "mark": {"type": "text", "align": "center", "fontSize": 11.6, "fontWeight": "bold", "color": "#111"}, "encoding": {"text": {"field": "text", "type": "nominal"}}},
            {"data": {"name": "headers"}, "transform": [{"filter": "datum.panel == 'C' && datum.col == 'ci' && datum.row == 0"}], "mark": {"type": "text", "align": "right", "fontSize": 11.6, "fontWeight": "bold", "color": "#111"}, "encoding": {"x": {"value": "width"}, "text": {"field": "text", "type": "nominal"}}},
            {"data": {"name": "studies"}, "transform": [{"filter": "datum.panel == 'C'"}], "mark": {"type": "text", "align": "right", "fontSize": 11.6}, "encoding": {"x": {"value": "width"}, "text": {"field": "ci", "type": "nominal"}}},
            {"data": {"name": "totals"}, "transform": [{"filter": "datum.panel == 'C'"}], "mark": {"type": "text", "align": "right", "fontSize": 11.6, "fontWeight": "bold", "color": "#111"}, "encoding": {"x": {"value": "width"}, "text": {"field": "ci", "type": "nominal"}}}
          ]
        },
        {
          "width": 49, "height": 190,
          "encoding": {"y": {"field": "row", "type": "quantitative", "scale": {"domain": [-1.7197, 10.3822], "reverse": true, "nice": false, "zero": false}, "axis": null}},
          "layer": [
            {"data": {"name": "headers"}, "transform": [{"filter": "datum.panel == 'C' && datum.col == 'year'"}], "mark": {"type": "rule", "color": "#333", "strokeWidth": 1.2}, "encoding": {"y": {"datum": 0.34, "type": "quantitative", "axis": null}}},
            {"data": {"name": "headers"}, "transform": [{"filter": "datum.panel == 'C' && datum.col == 'year'"}], "mark": {"type": "text", "align": "left", "dx": 13, "fontSize": 11.6, "fontWeight": "bold", "color": "#111"}, "encoding": {"x": {"value": 0}, "text": {"field": "text", "type": "nominal"}}},
            {"data": {"name": "studies"}, "transform": [{"filter": "datum.panel == 'C'"}], "mark": {"type": "text", "align": "left", "dx": 13, "fontSize": 11.6}, "encoding": {"x": {"value": 0}, "text": {"field": "year", "type": "nominal"}}}
          ]
        },
        {
          "width": 303, "height": 133,
          "encoding": {"y": {"field": "row", "type": "quantitative", "scale": {"domain": [-1.568, 7], "reverse": true, "nice": false, "zero": false}, "axis": null}},
          "layer": [
            {"data": {"name": "headers"}, "transform": [{"filter": "datum.panel == 'C' && datum.col == 'forest' && datum.row == 0"}], "mark": {"type": "rule", "color": "#333", "strokeWidth": 1.2}, "encoding": {"y": {"datum": 0.51, "type": "quantitative", "axis": null}}},
            {"data": {"name": "headers"}, "transform": [{"filter": "datum.panel == 'C' && datum.col == 'forest'"}], "mark": {"type": "text", "align": "center", "fontWeight": "bold", "color": "#111"}, "encoding": {"text": {"field": "text", "type": "nominal"}}},
            {"data": {"name": "headers"}, "transform": [{"filter": "datum.panel == 'C' && datum.col == 'forest' && datum.row == 0"}], "mark": {"type": "rule", "color": "#555", "strokeWidth": 1.1}, "encoding": {"x": {"datum": 1, "type": "quantitative", "scale": {"type": "log", "domain": [0.01, 100]}, "axis": {"values": [0.01, 0.1, 1, 10, 100], "format": "~g", "grid": false, "domain": true, "ticks": true, "domainColor": "#333", "domainWidth": 2, "tickColor": "#333", "tickWidth": 2, "tickSize": 6, "labelFontSize": 12.3, "labelColor": "#333", "labelPadding": 1, "labelFlush": false, "labelOverlap": false, "titleFontSize": 12.3, "titleFontWeight": "normal", "titleColor": "#444", "titlePadding": 3, "title": "Favours above cutoff\u00a0\u00a0\u00a0Favours below cutoff"}}, "y": {"datum": 0.51, "type": "quantitative", "axis": null}, "y2": {"datum": 7}}},
            {"data": {"name": "studies"}, "transform": [{"filter": "datum.panel == 'C'"}], "mark": {"type": "rule", "color": "#222", "strokeWidth": 1.1}, "encoding": {"x": {"field": "lo", "type": "quantitative", "scale": {"type": "log", "domain": [0.01, 100]}, "axis": {"values": [0.01, 0.1, 1, 10, 100], "format": "~g", "grid": false, "domain": true, "ticks": true, "domainColor": "#333", "domainWidth": 2, "tickColor": "#333", "tickWidth": 2, "tickSize": 6, "labelFontSize": 12.3, "labelColor": "#333", "labelPadding": 1, "labelFlush": false, "labelOverlap": false, "titleFontSize": 12.3, "titleFontWeight": "normal", "titleColor": "#444", "titlePadding": 3, "title": "Favours above cutoff\u00a0\u00a0\u00a0Favours below cutoff"}}, "x2": {"field": "hi"}}},
            {"data": {"name": "studies"}, "transform": [{"filter": "datum.panel == 'C'"}], "mark": {"type": "point", "shape": "square", "filled": true, "color": "#c8202b", "opacity": 1, "strokeWidth": 0}, "encoding": {"x": {"field": "hr", "type": "quantitative", "scale": {"type": "log", "domain": [0.01, 100]}, "axis": {"values": [0.01, 0.1, 1, 10, 100], "format": "~g", "grid": false, "domain": true, "ticks": true, "domainColor": "#333", "domainWidth": 2, "tickColor": "#333", "tickWidth": 2, "tickSize": 6, "labelFontSize": 12.3, "labelColor": "#333", "labelPadding": 1, "labelFlush": false, "labelOverlap": false, "titleFontSize": 12.3, "titleFontWeight": "normal", "titleColor": "#444", "titlePadding": 3, "title": "Favours above cutoff\u00a0\u00a0\u00a0Favours below cutoff"}}, "size": {"field": "weight", "type": "quantitative", "scale": {"domain": [0, 1], "range": [0, 170]}, "legend": null}}},
            {"data": {"name": "totals"}, "transform": [{"filter": "datum.panel == 'C'"}], "mark": {"type": "point", "shape": "M-1,0L0,-0.85L1,0L0,0.85Z", "filled": true, "color": "#000", "opacity": 1, "size": 185}, "encoding": {"x": {"field": "hr", "type": "quantitative", "scale": {"type": "log", "domain": [0.01, 100]}, "axis": {"values": [0.01, 0.1, 1, 10, 100], "format": "~g", "grid": false, "domain": true, "ticks": true, "domainColor": "#333", "domainWidth": 2, "tickColor": "#333", "tickWidth": 2, "tickSize": 6, "labelFontSize": 12.3, "labelColor": "#333", "labelPadding": 1, "labelFlush": false, "labelOverlap": false, "titleFontSize": 12.3, "titleFontWeight": "normal", "titleColor": "#444", "titlePadding": 3, "title": "Favours above cutoff\u00a0\u00a0\u00a0Favours below cutoff"}}}}
          ]
        },
        {
          "width": 11, "height": 133,
          "data": {"name": "headers"}, "transform": [{"filter": "datum.panel == 'C' && datum.col == 'study'"}],
          "mark": {"type": "rule", "color": "#333", "strokeWidth": 1.2},
          "encoding": {"y": {"datum": 0.51, "type": "quantitative", "scale": {"domain": [-1.568, 7], "reverse": true, "nice": false, "zero": false}, "axis": null}}
        }
      ]
    },
    {
      "spacing": 0, "bounds": "flush",
      "hconcat": [
        {
          "width": 140, "height": 143,
          "encoding": {"y": {"field": "row", "type": "quantitative", "scale": {"domain": [-1.8, 7.7333], "reverse": true, "nice": false, "zero": false}, "axis": null}},
          "layer": [
            {"data": {"name": "headers"}, "transform": [{"filter": "datum.panel == 'D' && datum.col == 'study'"}], "mark": {"type": "rule", "color": "#333", "strokeWidth": 1.2}, "encoding": {"y": {"datum": 0.467, "type": "quantitative", "axis": null}}},
            {"data": {"name": "headers"}, "transform": [{"filter": "datum.panel == 'D' && datum.col == 'study'"}], "mark": {"type": "text", "align": "left", "dx": 11, "fontWeight": "bold", "color": "#111"}, "encoding": {"x": {"value": 0}, "text": {"field": "text", "type": "nominal"}}},
            {"data": {"name": "studies"}, "transform": [{"filter": "datum.panel == 'D'"}], "mark": {"type": "text", "align": "left", "dx": 11}, "encoding": {"x": {"value": 0}, "text": {"field": "study", "type": "nominal"}}},
            {"data": {"name": "totals"}, "transform": [{"filter": "datum.panel == 'D'"}], "mark": {"type": "text", "align": "left", "dx": 11, "fontWeight": "bold", "color": "#111"}, "encoding": {"x": {"value": 0}, "text": {"field": "label", "type": "nominal"}}},
            {"data": {"name": "notes"}, "transform": [{"filter": "datum.panel == 'D'"}], "mark": {"type": "text", "align": "left", "dx": 11}, "encoding": {"x": {"value": 0}, "text": {"field": "text", "type": "nominal"}}},
            {"data": {"name": "letters"}, "transform": [{"filter": "datum.panel == 'D'"}], "mark": {"type": "text", "align": "left", "dx": 7, "dy": 15, "fontSize": 13.5}, "encoding": {"x": {"value": 0}, "text": {"field": "letter", "type": "nominal"}}}
          ]
        },
        {
          "width": 100, "height": 143,
          "encoding": {"y": {"field": "row", "type": "quantitative", "scale": {"domain": [-1.8, 7.7333], "reverse": true, "nice": false, "zero": false}, "axis": null}},
          "layer": [
            {"data": {"name": "headers"}, "transform": [{"filter": "datum.panel == 'D' && datum.col == 'loghr'"}], "mark": {"type": "rule", "color": "#333", "strokeWidth": 1.2}, "encoding": {"y": {"datum": 0.467, "type": "quantitative", "axis": null}}},
            {"data": {"name": "headers"}, "transform": [{"filter": "datum.panel == 'D' && datum.col == 'loghr'"}], "mark": {"type": "text", "align": "right", "fontWeight": "bold", "color": "#111"}, "encoding": {"x": {"value": "width"}, "text": {"field": "text", "type": "nominal"}}},
            {"data": {"name": "studies"}, "transform": [{"filter": "datum.panel == 'D'"}], "mark": {"type": "text", "align": "right"}, "encoding": {"x": {"value": "width"}, "text": {"field": "loghr", "type": "nominal"}}}
          ]
        },
        {
          "width": 52, "height": 143,
          "encoding": {"y": {"field": "row", "type": "quantitative", "scale": {"domain": [-1.8, 7.7333], "reverse": true, "nice": false, "zero": false}, "axis": null}},
          "layer": [
            {"data": {"name": "headers"}, "transform": [{"filter": "datum.panel == 'D' && datum.col == 'se'"}], "mark": {"type": "rule", "color": "#333", "strokeWidth": 1.2}, "encoding": {"y": {"datum": 0.467, "type": "quantitative", "axis": null}}},
            {"data": {"name": "headers"}, "transform": [{"filter": "datum.panel == 'D' && datum.col == 'se'"}], "mark": {"type": "text", "align": "right", "fontWeight": "bold", "color": "#111"}, "encoding": {"x": {"value": "width"}, "text": {"field": "text", "type": "nominal"}}},
            {"data": {"name": "studies"}, "transform": [{"filter": "datum.panel == 'D'"}], "mark": {"type": "text", "align": "right"}, "encoding": {"x": {"value": "width"}, "text": {"field": "se", "type": "nominal"}}}
          ]
        },
        {
          "width": 51, "height": 143,
          "encoding": {"y": {"field": "row", "type": "quantitative", "scale": {"domain": [-1.8, 7.7333], "reverse": true, "nice": false, "zero": false}, "axis": null}},
          "layer": [
            {"data": {"name": "headers"}, "transform": [{"filter": "datum.panel == 'D' && datum.col == 'weight'"}], "mark": {"type": "rule", "color": "#333", "strokeWidth": 1.2}, "encoding": {"y": {"datum": 0.467, "type": "quantitative", "axis": null}}},
            {"data": {"name": "headers"}, "transform": [{"filter": "datum.panel == 'D' && datum.col == 'weight'"}], "mark": {"type": "text", "align": "right", "fontWeight": "bold", "color": "#111"}, "encoding": {"x": {"value": "width"}, "text": {"field": "text", "type": "nominal"}}},
            {"data": {"name": "studies"}, "transform": [{"filter": "datum.panel == 'D'"}], "mark": {"type": "text", "align": "right"}, "encoding": {"x": {"value": "width"}, "text": {"field": "weight", "type": "quantitative", "format": ".1%"}}},
            {"data": {"name": "totals"}, "transform": [{"filter": "datum.panel == 'D'"}], "mark": {"type": "text", "align": "right", "fontWeight": "bold", "color": "#111"}, "encoding": {"x": {"value": "width"}, "text": {"field": "weight", "type": "quantitative", "format": ".1%"}}}
          ]
        },
        {
          "width": 122, "height": 143,
          "encoding": {"y": {"field": "row", "type": "quantitative", "scale": {"domain": [-1.8, 7.7333], "reverse": true, "nice": false, "zero": false}, "axis": null}},
          "layer": [
            {"data": {"name": "headers"}, "transform": [{"filter": "datum.panel == 'D' && datum.col == 'ci' && datum.row == 0"}], "mark": {"type": "rule", "color": "#333", "strokeWidth": 1.2}, "encoding": {"y": {"datum": 0.467, "type": "quantitative", "axis": null}}},
            {"data": {"name": "headers"}, "transform": [{"filter": "datum.panel == 'D' && datum.col == 'ci' && datum.row == -1"}], "mark": {"type": "text", "align": "center", "fontWeight": "bold", "color": "#111"}, "encoding": {"text": {"field": "text", "type": "nominal"}}},
            {"data": {"name": "headers"}, "transform": [{"filter": "datum.panel == 'D' && datum.col == 'ci' && datum.row == 0"}], "mark": {"type": "text", "align": "right", "fontWeight": "bold", "color": "#111"}, "encoding": {"x": {"value": "width"}, "text": {"field": "text", "type": "nominal"}}},
            {"data": {"name": "studies"}, "transform": [{"filter": "datum.panel == 'D'"}], "mark": {"type": "text", "align": "right"}, "encoding": {"x": {"value": "width"}, "text": {"field": "ci", "type": "nominal"}}},
            {"data": {"name": "totals"}, "transform": [{"filter": "datum.panel == 'D'"}], "mark": {"type": "text", "align": "right", "fontWeight": "bold", "color": "#111"}, "encoding": {"x": {"value": "width"}, "text": {"field": "ci", "type": "nominal"}}}
          ]
        },
        {
          "width": 12, "height": 143,
          "data": {"name": "headers"}, "transform": [{"filter": "datum.panel == 'D' && datum.col == 'study'"}],
          "mark": {"type": "rule", "color": "#333", "strokeWidth": 1.2},
          "encoding": {"y": {"datum": 0.467, "type": "quantitative", "scale": {"domain": [-1.8, 7.7333], "reverse": true, "nice": false, "zero": false}, "axis": null}}
        },
        {
          "width": 312, "height": 103,
          "encoding": {"y": {"field": "row", "type": "quantitative", "scale": {"domain": [-1.8333, 5], "reverse": true, "nice": false, "zero": false}, "axis": null}},
          "layer": [
            {"data": {"name": "headers"}, "transform": [{"filter": "datum.panel == 'D' && datum.col == 'forest' && datum.row == 0"}], "mark": {"type": "rule", "color": "#333", "strokeWidth": 1.2}, "encoding": {"y": {"datum": 0.42, "type": "quantitative", "axis": null}}},
            {"data": {"name": "headers"}, "transform": [{"filter": "datum.panel == 'D' && datum.col == 'forest'"}], "mark": {"type": "text", "align": "center", "fontWeight": "bold", "color": "#111"}, "encoding": {"text": {"field": "text", "type": "nominal"}}},
            {"data": {"name": "headers"}, "transform": [{"filter": "datum.panel == 'D' && datum.col == 'forest' && datum.row == 0"}], "mark": {"type": "rule", "color": "#555", "strokeWidth": 1.1}, "encoding": {"x": {"datum": 1, "type": "quantitative", "scale": {"type": "log", "domain": [0.01, 100]}, "axis": {"values": [0.01, 0.1, 1, 10, 100], "format": "~g", "grid": false, "domain": true, "ticks": true, "domainColor": "#333", "domainWidth": 2, "tickColor": "#333", "tickWidth": 2, "tickSize": 6, "labelFontSize": 12.3, "labelColor": "#333", "labelPadding": 1, "labelFlush": false, "labelOverlap": false, "titleFontSize": 12.3, "titleFontWeight": "normal", "titleColor": "#444", "titlePadding": 3, "title": "Favours above cutoff\u00a0\u00a0\u00a0Favours below cutoff"}}, "y": {"datum": 0.42, "type": "quantitative", "axis": null}, "y2": {"datum": 5}}},
            {"data": {"name": "studies"}, "transform": [{"filter": "datum.panel == 'D'"}], "mark": {"type": "rule", "color": "#222", "strokeWidth": 1.1}, "encoding": {"x": {"field": "lo", "type": "quantitative", "scale": {"type": "log", "domain": [0.01, 100]}, "axis": {"values": [0.01, 0.1, 1, 10, 100], "format": "~g", "grid": false, "domain": true, "ticks": true, "domainColor": "#333", "domainWidth": 2, "tickColor": "#333", "tickWidth": 2, "tickSize": 6, "labelFontSize": 12.3, "labelColor": "#333", "labelPadding": 1, "labelFlush": false, "labelOverlap": false, "titleFontSize": 12.3, "titleFontWeight": "normal", "titleColor": "#444", "titlePadding": 3, "title": "Favours above cutoff\u00a0\u00a0\u00a0Favours below cutoff"}}, "x2": {"field": "hi"}}},
            {"data": {"name": "studies"}, "transform": [{"filter": "datum.panel == 'D'"}], "mark": {"type": "point", "shape": "square", "filled": true, "color": "#c8202b", "opacity": 1, "strokeWidth": 0}, "encoding": {"x": {"field": "hr", "type": "quantitative", "scale": {"type": "log", "domain": [0.01, 100]}, "axis": {"values": [0.01, 0.1, 1, 10, 100], "format": "~g", "grid": false, "domain": true, "ticks": true, "domainColor": "#333", "domainWidth": 2, "tickColor": "#333", "tickWidth": 2, "tickSize": 6, "labelFontSize": 12.3, "labelColor": "#333", "labelPadding": 1, "labelFlush": false, "labelOverlap": false, "titleFontSize": 12.3, "titleFontWeight": "normal", "titleColor": "#444", "titlePadding": 3, "title": "Favours above cutoff\u00a0\u00a0\u00a0Favours below cutoff"}}, "size": {"field": "weight", "type": "quantitative", "scale": {"domain": [0, 1], "range": [0, 280]}, "legend": null}}},
            {"data": {"name": "totals"}, "transform": [{"filter": "datum.panel == 'D'"}], "mark": {"type": "point", "shape": "M-1,0L0,-0.55L1,0L0,0.55Z", "filled": true, "color": "#000", "opacity": 1, "size": 576}, "encoding": {"x": {"field": "hr", "type": "quantitative", "scale": {"type": "log", "domain": [0.01, 100]}, "axis": {"values": [0.01, 0.1, 1, 10, 100], "format": "~g", "grid": false, "domain": true, "ticks": true, "domainColor": "#333", "domainWidth": 2, "tickColor": "#333", "tickWidth": 2, "tickSize": 6, "labelFontSize": 12.3, "labelColor": "#333", "labelPadding": 1, "labelFlush": false, "labelOverlap": false, "titleFontSize": 12.3, "titleFontWeight": "normal", "titleColor": "#444", "titlePadding": 3, "title": "Favours above cutoff\u00a0\u00a0\u00a0Favours below cutoff"}}}}
          ]
        },
        {
          "width": 11, "height": 103,
          "data": {"name": "headers"}, "transform": [{"filter": "datum.panel == 'D' && datum.col == 'study'"}],
          "mark": {"type": "rule", "color": "#333", "strokeWidth": 1.2},
          "encoding": {"y": {"datum": 0.42, "type": "quantitative", "scale": {"domain": [-1.8333, 5], "reverse": true, "nice": false, "zero": false}, "axis": null}}
        }
      ]
    }
  ]
}
